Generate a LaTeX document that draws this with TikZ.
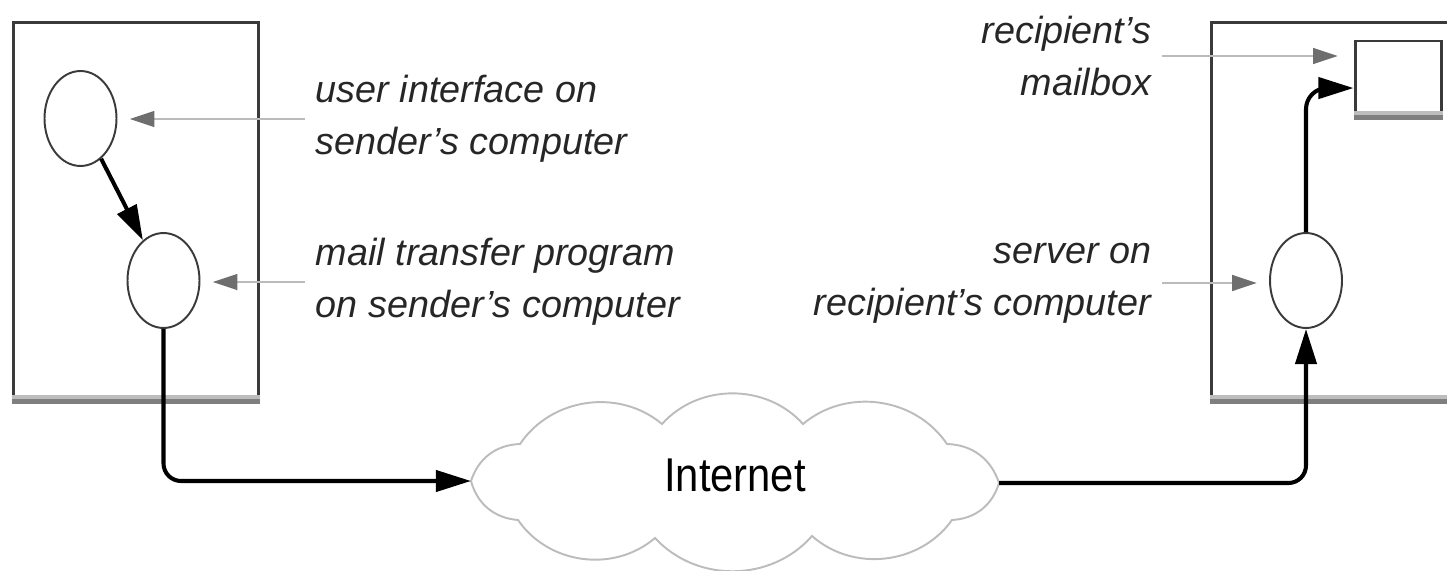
\documentclass[tikz,border=0pt]{standalone}
\usepackage{fontspec}
\setmainfont{Liberation Sans}
\usetikzlibrary{arrows.meta,positioning,calc,shapes.geometric}
\definecolor{boxgray}{HTML}{3A3A3A}
\definecolor{bandlight}{HTML}{BDBDBD}
\definecolor{banddark}{HTML}{7F7F7F}
\definecolor{ptrline}{HTML}{BBBBBB}
\definecolor{ptrhead}{HTML}{6E6E6E}
\definecolor{cloudgray}{HTML}{BCBCBC}
\tikzset{
  machine/.style={draw=boxgray, line width=1.7pt, minimum height=7.52cm, inner sep=0pt},
  proc/.style={draw=boxgray, ellipse, line width=1.1pt, minimum width=1.44cm, minimum height=1.9cm, inner sep=0pt},
  lbl/.style={font=\fontsize{21.5}{29.5}\selectfont\itshape, text=black!85, inner xsep=6pt},
  flow/.style={line width=2.3pt, -{Triangle[length=20pt,width=12pt]}},
  ptr/.style={draw=ptrline, line width=1.2pt, -{Triangle[length=14pt,width=9pt,color=ptrhead]}}
}

\begin{document}
\begin{tikzpicture}[x=0.02cm, y=-0.02cm]
  \useasboundingbox (0,0) rectangle (1447,571);
  \clip (0,0) rectangle (1447,571);
  % computers and mailbox
  \node[machine, minimum width=4.92cm] (snd) at (136,210) {};
  \node[machine, minimum width=5.38cm] (rcv) at (1345.5,210) {};
  \node[draw=boxgray, line width=1.7pt, minimum width=1.72cm, minimum height=1.46cm, inner sep=0pt] (mbox) at (1398,77.5) {};
  \foreach \b in {snd,rcv,mbox} {
    \fill[bandlight] ([yshift=2.3pt]\b.south west) rectangle (\b.south east);
    \fill[banddark] (\b.south west) rectangle ([yshift=-2.6pt]\b.south east);
  }
  % programs
  \node[proc] (ui) at (80.5,118.5) {};
  \node[proc] (mta) at (163.5,280.5) {};
  \node[proc] (srv) at (1306,280.5) {};
  % labels
  \node[lbl, anchor=west, align=left] (uitxt) at (305,119) {user interface on\\sender's computer};
  \node[lbl, anchor=west, align=left] (mtatxt) at (305,282) {mail transfer program\\on sender's computer};
  \node[lbl, anchor=east, align=right] (mbtxt) at (1162,56) {recipient's\\mailbox};
  \node[lbl, anchor=east, align=right] (srvtxt) at (1162,283) {server on\\recipient's computer};
  \draw[ptr, shorten >=7pt] (uitxt.west) -- (uitxt.west -| ui.east);
  \draw[ptr, shorten >=7pt] (mtatxt.west) -- (mtatxt.west -| mta.east);
  \draw[ptr, shorten >=9pt] (mbtxt.east) -- (mbtxt.east -| mbox.west);
  \draw[ptr, shorten >=7pt] (srvtxt.east) -- (srvtxt.east -| srv.west);
  % internet cloud
  \node[font=\fontsize{27}{27}\selectfont] (inet) at (735,475) {\scalebox{0.88}[1]{Internet}};
  \coordinate (inetW) at (471,481);
  \coordinate (inetE) at (999,483);
  \draw[cloudgray, line width=1.1pt] (inetW) to[bend left=35] (520,444) to[bend left=48] (662,424)
    to[bend left=48] (803,424) to[bend left=48] (947,444) to[bend left=35] (inetE)
    to[bend left=35] (952,520) to[bend left=48] (812,536) to[bend left=48] (655,538)
    to[bend left=48] (518,520) to[bend left=35] (inetW);
  % mail path
  \draw[flow] (ui) -- (mta);
  \draw[flow, rounded corners=10pt] (mta.south) |- (inetW);
  \draw[flow, rounded corners=10pt] (inetE) -| (srv.south);
  \draw[flow, rounded corners=12pt] (srv.north) |- ([yshift=-6pt]mbox.west);
\end{tikzpicture}
\end{document}
